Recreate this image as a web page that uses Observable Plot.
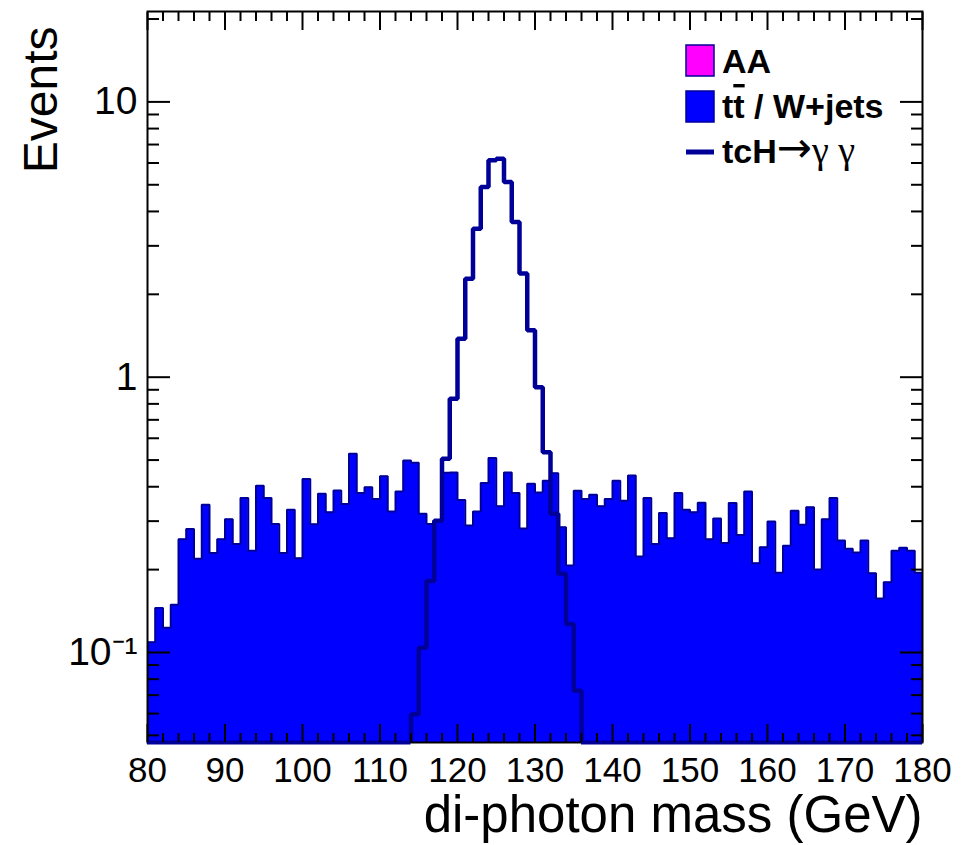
<!DOCTYPE html>
<html><head><meta charset="utf-8">
<script src="https://cdn.jsdelivr.net/npm/d3@7"></script>
<script src="https://cdn.jsdelivr.net/npm/@observablehq/plot@0.6"></script>
<style>
body{margin:0;background:#fff;}
#wrap{position:relative;width:962px;height:845px;overflow:hidden;}
#legend{position:absolute;left:0;top:0;}
</style></head><body><div id="wrap"></div>
<script>
// ---- data ----
const histStart = 80;          // GeV, first bin low edge
const binWidth = 1;            // GeV
const xDomain = [80, 180];
const yDomain = [0.0471, 21.3];
const xTicksMajor = [80, 90, 100, 110, 120, 130, 140, 150, 160, 170, 180];
const xTicksMinor = [82,84,86,88,92,94,96,98,102,104,106,108,112,114,116,118,122,124,126,128,132,134,136,138,142,144,146,148,152,154,156,158,162,164,166,168,172,174,176,178];
const yTicksMajor = [0.1, 1, 10];
const yTickLabels = ["10\u207B\u00B9", "1", "10"];
const yTicksMinor = [0.05,0.06,0.07,0.08,0.09,0.2,0.3,0.4,0.5,0.6,0.7,0.8,0.9,2,3,4,5,6,7,8,9,20];
const xTitle = "di-photon mass (GeV)";
const yTitle = "Events";
const legendLabels = ["AA", "tt / W+jets", "tcH", "\u2192", "\u03B3 \u03B3"];
const legendColors = ["#ff00ff", "#0000ff", "#000099"];

// tt/W+jets background, bins 80..179 GeV
const background = [
  0.109,0.145,0.123,0.149,0.258,0.281,0.219,0.344,0.230,0.258,
  0.305,0.248,0.364,0.234,0.403,0.364,0.293,0.230,0.330,0.220,
  0.427,0.292,0.377,0.323,0.388,0.346,0.527,0.380,0.398,0.361,
  0.437,0.325,0.384,0.498,0.489,0.319,0.293,0.300,0.450,0.451,
  0.358,0.289,0.325,0.413,0.509,0.340,0.451,0.380,0.282,0.410,
  0.381,0.421,0.448,0.285,0.207,0.387,0.361,0.374,0.340,0.361,
  0.421,0.356,0.439,0.223,0.364,0.248,0.321,0.260,0.380,0.330,
  0.323,0.350,0.258,0.307,0.250,0.349,0.267,0.384,0.211,0.241,
  0.299,0.195,0.244,0.327,0.291,0.337,0.200,0.305,0.364,0.255,
  0.238,0.231,0.255,0.194,0.157,0.180,0.234,0.240,0.234,0.195
];
// tcH -> gamma gamma signal, bins 114..135 GeV
const signalStart = 114;
const signal = [
  0.0597,0.104,0.182,0.301,0.505,0.835,1.379,2.28,3.46,4.91,
  6.14,6.22,5.12,3.66,2.38,1.48,0.92,0.534,0.319,0.193,0.127,0.0726
];

// ---- derived ----
const bgBins = background.map((v, i) => ({x1: histStart + i*binWidth, x2: histStart + (i+1)*binWidth, y: v}));
const sigBins = signal.map((v, i) => ({x1: signalStart + i*binWidth, x2: signalStart + (i+1)*binWidth, y: v}));
function outline(bins, base) {
  const pts = [{x: bins[0].x1, y: base}];
  for (const b of bins) pts.push({x: b.x1, y: b.y}, {x: b.x2, y: b.y});
  pts.push({x: bins[bins.length-1].x2, y: base});
  return pts;
}
const base = yDomain[0];
const bgOutline = outline(bgBins, base);
const bottomBand = [
  {x1: xDomain[0], x2: sigBins[0].x1},
  {x1: sigBins[sigBins.length-1].x2, x2: xDomain[1]}
];
const yLab = d => yTickLabels[yTicksMajor.indexOf(d)];

const plot = Plot.plot({
  width: 962, height: 845,
  marginLeft: 147, marginRight: 40, marginTop: 11, marginBottom: 103,
  x: {domain: xDomain, axis: null},
  y: {type: "log", domain: yDomain, axis: null},
  style: {fontFamily: "'Liberation Sans', Arial, Helvetica, sans-serif", background: "white", color: "black", overflow: "visible"},
  marks: [
    Plot.area(bgOutline, {x1: "x", y1: () => base, y2: "y", fill: "#0000ff", clip: true}),
    Plot.line(bgOutline, {x: "x", y: "y", stroke: "#000099", strokeWidth: 2, strokeLinejoin: "miter", clip: true}),
    Plot.line(outline(sigBins, base), {x: "x", y: "y", stroke: "#000099", strokeWidth: 4.5, strokeLinejoin: "miter", strokeLinecap: "butt", clip: true}),
    Plot.frame({stroke: "black", strokeWidth: 2}),
    Plot.ruleY(bottomBand, {x1: "x1", x2: "x2", y: () => base, stroke: "#000099", strokeWidth: 4}),
    // ticks (inward)
    Plot.axisX(xTicksMajor, {anchor: "bottom", tickSize: -18, fill: "none", label: null, strokeWidth: 2}),
    Plot.axisX(xTicksMinor, {anchor: "bottom", tickSize: -9, fill: "none", label: null, strokeWidth: 2}),
    Plot.axisX(xTicksMajor, {anchor: "top", tickSize: -18, fill: "none", label: null, strokeWidth: 2}),
    Plot.axisX(xTicksMinor, {anchor: "top", tickSize: -9, fill: "none", label: null, strokeWidth: 2}),
    Plot.axisY(yTicksMajor, {anchor: "left", tickSize: -23, fill: "none", label: null, strokeWidth: 2}),
    Plot.axisY(yTicksMinor, {anchor: "left", tickSize: -12, fill: "none", label: null, strokeWidth: 2}),
    Plot.axisY(yTicksMajor, {anchor: "right", tickSize: -23, fill: "none", label: null, strokeWidth: 2}),
    Plot.axisY(yTicksMinor, {anchor: "right", tickSize: -12, fill: "none", label: null, strokeWidth: 2}),
    // tick labels
    Plot.axisX(xTicksMajor, {anchor: "bottom", tickSize: 0, tickPadding: 15, fontSize: 35, tickFormat: d => String(d), label: null}),
    Plot.axisY(yTicksMajor, {anchor: "left", tickSize: 0, tickPadding: 10, fontSize: 39, tickFormat: yLab, label: null}),
    // titles
    Plot.text([xTitle], {frameAnchor: "bottom-right", textAnchor: "end", lineAnchor: "bottom", dy: 89, fontSize: 51, fill: "black"}),
    Plot.text([yTitle], {frameAnchor: "top-left", textAnchor: "end", lineAnchor: "middle", rotate: -90, dx: -106, dy: 15, fontSize: 48, fill: "black"})
  ]
});
document.getElementById("wrap").appendChild(plot);

// legend overlay
const ns = "http://www.w3.org/2000/svg";
const lg = document.createElementNS(ns, "svg");
lg.setAttribute("id", "legend");
lg.setAttribute("width", 962); lg.setAttribute("height", 200);
const sans = "'Liberation Sans', Arial, sans-serif";
lg.innerHTML = `
  <rect x="686" y="45" width="28" height="31" fill="${legendColors[0]}" stroke="#000099" stroke-width="1.5"/>
  <text x="722" y="73" font-family="${sans}" font-weight="bold" font-size="34">${legendLabels[0]}</text>
  <rect x="686" y="91" width="28" height="31" fill="${legendColors[1]}" stroke="#000099" stroke-width="1.5"/>
  <text x="722" y="118" font-family="${sans}" font-weight="bold" font-size="34">t<tspan style="text-decoration: overline">t</tspan>${legendLabels[1].slice(2)}</text>
  <line x1="686" x2="714" y1="152" y2="152" stroke="${legendColors[2]}" stroke-width="5"/>
  <text x="722" y="163" font-family="${sans}" font-weight="bold" font-size="34">${legendLabels[2]}<tspan font-family="'DejaVu Sans', sans-serif" font-weight="normal" font-size="42" dy="-1">${legendLabels[3]}</tspan><tspan font-family="'Liberation Serif', 'Times New Roman', serif" font-weight="normal" font-size="38" dy="1">${legendLabels[4]}</tspan></text>
`;
document.getElementById("wrap").appendChild(lg);
</script>
</body></html>
